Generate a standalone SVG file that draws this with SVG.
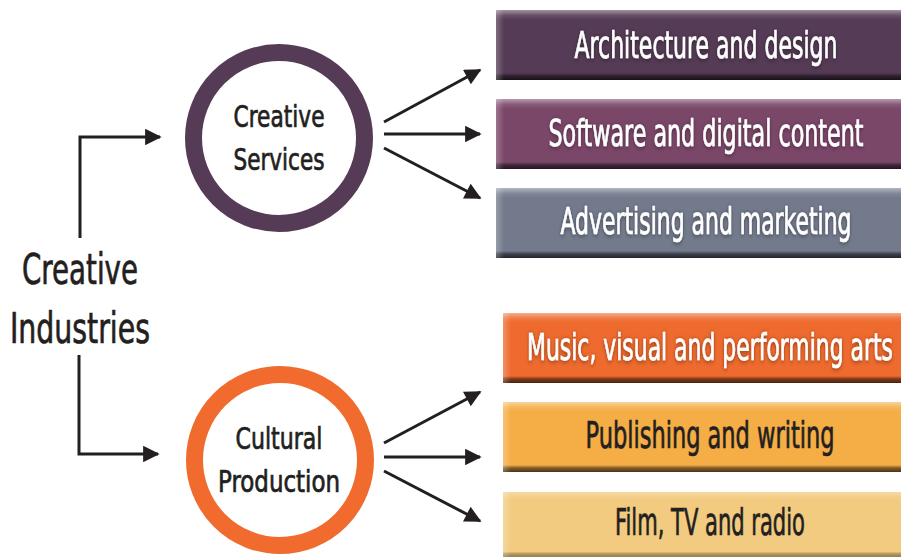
<svg xmlns="http://www.w3.org/2000/svg" width="901" height="557" viewBox="0 0 901 557">
<defs>
<style>
.t{font-family:"DejaVu Sans Condensed","Liberation Sans",sans-serif;text-anchor:middle;stroke-width:0.7px}
.bt{font-size:37px;fill:#fff;stroke:#fff;filter:url(#sh)}
.dk{fill:#231f20;stroke:#231f20;filter:none}
.ct{font-size:30px;fill:#231f20;stroke:#231f20}
.lt{font-size:42px;fill:#231f20;stroke:#231f20}
.ln{stroke:#231f20;stroke-width:3;fill:none;marker-end:url(#ah)}
.ring{fill:#fff;stroke-width:17}
</style>
<marker id="ah" viewBox="0 0 10 10" refX="9" refY="5" markerWidth="6.5" markerHeight="5.5" markerUnits="strokeWidth" orient="auto">
<path d="M0,0 L10,5 L0,10 z" fill="#231f20"/>
</marker>
<linearGradient id="bv" x1="0" y1="0" x2="0" y2="1">
<stop offset="0" stop-color="#fff" stop-opacity="0.45"/>
<stop offset="0.08" stop-color="#fff" stop-opacity="0.1"/>
<stop offset="0.14" stop-color="#fff" stop-opacity="0"/>
<stop offset="0.9" stop-color="#000" stop-opacity="0"/>
<stop offset="0.94" stop-color="#000" stop-opacity="0.45"/>
<stop offset="1" stop-color="#000" stop-opacity="0.7"/>
</linearGradient>
<linearGradient id="bh" x1="0" y1="0" x2="1" y2="0">
<stop offset="0" stop-color="#fff" stop-opacity="0.25"/>
<stop offset="0.02" stop-color="#fff" stop-opacity="0"/>
<stop offset="1" stop-color="#fff" stop-opacity="0"/>
</linearGradient>
<filter id="sh" x="-15%" y="-40%" width="130%" height="180%">
<feDropShadow dx="0" dy="1" stdDeviation="2.5" flood-color="#000" flood-opacity="0.45"/>
</filter>
</defs>

<g id="creative-industries">
<text class="t lt" transform="matrix(0.65,0,0,1,80,284)" textLength="178.5" lengthAdjust="spacingAndGlyphs">Creative</text>
<text class="t lt" transform="matrix(0.65,0,0,1,80,343)" textLength="215.4" lengthAdjust="spacingAndGlyphs">Industries</text>
</g>

<g id="creative-services">
<circle class="ring" cx="279" cy="138" r="85.5" stroke="#553b55"/>
<text class="t ct" transform="matrix(0.65,0,0,1,279,127)" textLength="140" lengthAdjust="spacingAndGlyphs">Creative</text>
<text class="t ct" transform="matrix(0.65,0,0,1,279,170)" textLength="140" lengthAdjust="spacingAndGlyphs">Services</text>
</g>

<g id="cultural-production">
<circle class="ring" cx="280" cy="460" r="85.5" stroke="#f26b2e"/>
<text class="t ct" transform="matrix(0.65,0,0,1,279,449)" textLength="133.8" lengthAdjust="spacingAndGlyphs">Cultural</text>
<text class="t ct" transform="matrix(0.65,0,0,1,279,492)" textLength="187.7" lengthAdjust="spacingAndGlyphs">Production</text>
</g>

<g id="architecture">
<rect x="496" y="10" width="405" height="70" fill="#553b55"/>
<rect x="496" y="10" width="405" height="70" fill="url(#bv)"/>
<rect x="496" y="10" width="405" height="70" fill="url(#bh)"/>
<text class="t bt" transform="matrix(0.65,0,0,1,706,58)" textLength="404.6" lengthAdjust="spacingAndGlyphs">Architecture and design</text>
</g>

<g id="software">
<rect x="496" y="99" width="405" height="70" fill="#7b4769"/>
<rect x="496" y="99" width="405" height="70" fill="url(#bv)"/>
<rect x="496" y="99" width="405" height="70" fill="url(#bh)"/>
<text class="t bt" transform="matrix(0.65,0,0,1,706,146)" textLength="484.6" lengthAdjust="spacingAndGlyphs">Software and digital content</text>
</g>

<g id="advertising">
<rect x="496" y="188" width="405" height="70" fill="#737a8c"/>
<rect x="496" y="188" width="405" height="70" fill="url(#bv)"/>
<rect x="496" y="188" width="405" height="70" fill="url(#bh)"/>
<text class="t bt" transform="matrix(0.65,0,0,1,706,234)" textLength="447.7" lengthAdjust="spacingAndGlyphs">Advertising and marketing</text>
</g>

<g id="music">
<rect x="503" y="313" width="398" height="70" fill="#ee6a2e"/>
<rect x="503" y="313" width="398" height="70" fill="url(#bv)"/>
<rect x="503" y="313" width="398" height="70" fill="url(#bh)"/>
<text class="t bt" transform="matrix(0.65,0,0,1,710,360)" textLength="563" lengthAdjust="spacingAndGlyphs">Music, visual and performing arts</text>
</g>

<g id="publishing">
<rect x="503" y="402" width="398" height="70" fill="#f5ad46"/>
<rect x="503" y="402" width="398" height="70" fill="url(#bv)"/>
<rect x="503" y="402" width="398" height="70" fill="url(#bh)"/>
<text class="t bt dk" transform="matrix(0.65,0,0,1,710,448)" textLength="383" lengthAdjust="spacingAndGlyphs">Publishing and writing</text>
</g>

<g id="film">
<rect x="503" y="492" width="398" height="66" fill="#f2cb80"/>
<rect x="503" y="492" width="398" height="66" fill="url(#bv)" opacity="0.6"/>
<rect x="503" y="492" width="398" height="66" fill="url(#bh)"/>
<text class="t bt dk" transform="matrix(0.65,0,0,1,710,535)" textLength="292" lengthAdjust="spacingAndGlyphs">Film, TV and radio</text>
</g>

<g id="connectors">
<path class="ln" d="M80,238 V137 H160"/>
<path class="ln" d="M79,355 V454 H158"/>
<path class="ln" d="M384,122 L480,70"/>
<path class="ln" d="M384,134 L480,134"/>
<path class="ln" d="M384,148 L480,198"/>
<path class="ln" d="M384,443 L480,392"/>
<path class="ln" d="M384,457 L480,457"/>
<path class="ln" d="M384,471 L480,521"/>
</g>
</svg>
